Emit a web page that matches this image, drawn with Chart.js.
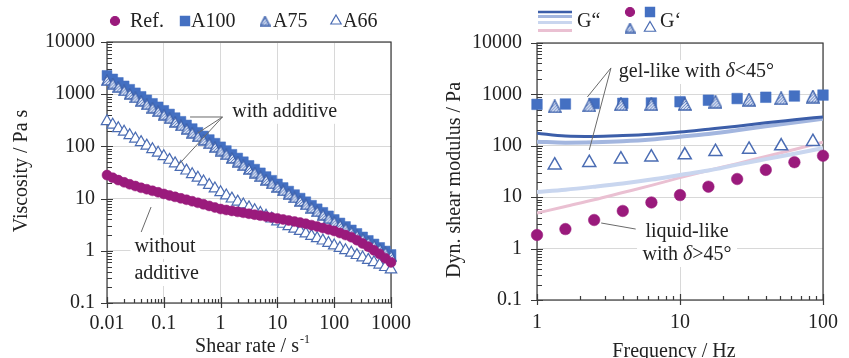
<!DOCTYPE html>
<html>
<head>
<meta charset="utf-8">
<script src="https://cdn.jsdelivr.net/npm/chart.js@4.4.0/dist/chart.umd.min.js"></script>
<style>
  html, body { margin: 0; padding: 0; background: #fff; }
  #wrap { position: relative; width: 849px; height: 358px; }
  #c1 { position: absolute; left: 0; top: 0; }
  #c2 { position: absolute; left: 420px; top: 0; }
</style>
</head>
<body>
<div id="wrap">
  <canvas id="c1" width="420" height="358"></canvas>
  <canvas id="c2" width="429" height="358"></canvas>
</div>
<script>
// ---- left chart: viscosity curves
const shearRate = [0.01,0.0126,0.0158,0.02,0.0251,0.0316,0.0398,0.0501,0.0631,0.0794,
  0.1,0.126,0.158,0.2,0.251,0.316,0.398,0.501,0.631,0.794,
  1,1.26,1.58,2,2.51,3.16,3.98,5.01,6.31,7.94,
  10,12.6,15.8,20,25.1,31.6,39.8,50.1,63.1,79.4,
  100,126,158,200,251,316,398,501,631,794,1000];
const viscRef = [28.2,25.1,22.6,20.5,18.8,17.4,16.1,15.1,14.1,13.2,
  12.3,11.5,10.8,10.1,9.5,8.9,8.3,7.76,7.24,6.76,
  6.31,6.05,5.81,5.57,5.35,5.13,4.92,4.72,4.53,4.35,
  4.17,3.98,3.80,3.63,3.47,3.31,3.10,2.91,2.73,2.56,
  2.40,2.19,2.0,1.82,1.60,1.38,1.20,1.02,0.87,0.72,0.60];
const viscA100 = [2290,1960,1680,1440,1240,1060,908,778,667,571,
  490,417,355,302,257,219,186,158,135,115,
  98,83,70.5,59.8,50.8,43.2,36.6,31.1,26.4,22.4,
  19.1,16.3,13.9,11.9,10.2,8.7,7.45,6.37,5.45,4.66,
  3.98,3.41,2.92,2.51,2.15,1.84,1.58,1.35,1.16,0.99,0.85];
const viscA75 = [1860,1600,1370,1180,1010,868,745,640,550,472,
  405,346,295,252,215,183,156,133,114,97,
  83,70.5,60,51,43.5,37,31.5,26.8,22.9,19.5,
  16.7,14.3,12.3,10.5,9.0,7.75,6.65,5.7,4.9,4.2,
  3.6,3.1,2.67,2.3,1.98,1.7,1.46,1.26,1.08,0.93,0.8];
const viscA66 = [302,259,222,190,163,140,120,103,88,75,
  64.6,55,47,40,34.2,29.2,24.9,21.2,18.1,15.5,
  13.2,11.4,9.95,8.7,7.65,6.76,5.97,5.28,4.68,4.12,
  3.63,3.27,2.94,2.64,2.38,2.14,1.92,1.73,1.56,1.40,
  1.26,1.13,1.02,0.916,0.824,0.741,0.667,0.6,0.54,0.485,0.436];

// ---- right chart: oscillation moduli
const freq = [1,1.58,2.51,3.98,6.31,10,15.8,25.1,39.8,63.1,100];
const freqTri = [1.33,2.32,3.86,6.3,10.8,17.7,30.4,51,85];
const gStoreRef = [1.84,2.4,3.6,5.4,7.9,11,16,22.6,34,48,64];
const gStoreA100 = [640,650,665,670,680,720,770,830,880,930,970];
const gStoreA75 = [585,610,640,645,650,720,790,840,910];
const gStoreA66 = [42,47,55,60,66,77,85,99,120];
const gLossA100 = [175,155,152,158,168,185,210,240,280,320,365];
const gLossA75 = [120,115,117,122,132,150,170,200,240,285,335];
const gLossA66 = [12.6,14,16,18.5,22,27,33,43,55,70,90];
const gLossRef = [4.9,6.6,8.9,12.3,17,24,33,45,62,85,118];

// ---- axes
const xMajorLeft = [0.01,0.1,1,10,100,1000];
const xLabelsLeft = ['0.01','0.1','1','10','100','1000'];
const xMajorRight = [1,10,100];
const xLabelsRight = ['1','10','100'];
const yMajor = [0.1,1,10,100,1000,10000];
const yLabels = ['0.1','1','10','100','1000','10000'];

const SERIF = '"Liberation Serif", "Times New Roman", serif';
const TXT = '#222';
const PURPLE = '#9a1a7c';
const BLUE = '#4470c2';
const BLUE_LINE = '#4a6cb3';

Chart.defaults.font.family = SERIF;
Chart.defaults.font.size = 20;
Chart.defaults.color = TXT;

function isMajor(v) {
  const l = Math.log10(v);
  return Math.abs(l - Math.round(l)) < 1e-6;
}
function tickList(majors) {
  const out = [];
  for (let i = 0; i < majors.length - 1; i++) {
    for (let k = 1; k < 10; k++) out.push({ value: majors[i] * k });
  }
  out.push({ value: majors[majors.length - 1] });
  return out;
}
function labelFor(majors, labels) {
  return v => {
    const i = majors.findIndex(m => Math.abs(m - v) / m < 1e-6);
    return i < 0 ? '' : labels[i];
  };
}
function pts(xs, ys) { return xs.map((x, i) => ({ x: x, y: ys[i] })); }

// dotted/hatched triangle marker
function hatchTri(size) {
  const c = document.createElement('canvas');
  c.width = size; c.height = size;
  const g = c.getContext('2d');
  const path = () => {
    g.beginPath();
    g.moveTo(size / 2, 0.8);
    g.lineTo(size - 0.8, size - 1);
    g.lineTo(0.8, size - 1);
    g.closePath();
  };
  path();
  g.fillStyle = '#dfe6f5';
  g.fill();
  g.save();
  g.clip();
  g.strokeStyle = '#5b7cc0';
  g.lineWidth = 1;
  for (let k = -size; k < size * 2; k += 3) {
    g.beginPath(); g.moveTo(k, size); g.lineTo(k + size, 0); g.stroke();
  }
  g.restore();
  path();
  g.strokeStyle = '#3f63ad';
  g.lineWidth = 1.4;
  g.stroke();
  return c;
}
const triSmall = hatchTri(12);
const triLegend = hatchTri(11);
const triBig = hatchTri(14);

function axes(xMaj, xLab, yWidth, xHeight, xPad, yPad) {
  return {
    x: {
      type: 'logarithmic', min: xMaj[0], max: xMaj[xMaj.length - 1],
      afterBuildTicks: s => { s.ticks = tickList(xMaj); },
      afterFit: s => { s.height = xHeight; },
      ticks: { autoSkip: false, maxRotation: 0, padding: xPad, callback: labelFor(xMaj, xLab) },
      grid: { drawTicks: false, lineWidth: 1,
        color: c => (c.tick && isMajor(c.tick.value)) ? '#d8d8d8' : 'rgba(0,0,0,0)' },
      border: { display: false }
    },
    y: {
      type: 'logarithmic', min: 0.1, max: 10000,
      afterBuildTicks: s => { s.ticks = tickList(yMajor); },
      afterFit: s => { s.width = yWidth; },
      ticks: { autoSkip: false, padding: yPad, callback: labelFor(yMajor, yLabels) },
      grid: { drawTicks: false, lineWidth: 1,
        color: c => (c.tick && isMajor(c.tick.value)) ? '#d8d8d8' : 'rgba(0,0,0,0)' },
      border: { display: false }
    }
  };
}

// box + inner tick marks
const frame = {
  id: 'frame',
  beforeDatasetsDraw(chart) {
    const { ctx, chartArea: a, scales: { x, y } } = chart;
    ctx.save();
    ctx.strokeStyle = '#3a3a3a';
    ctx.lineWidth = 1.2;
    ctx.strokeRect(a.left, a.top, a.right - a.left, a.bottom - a.top);
    ctx.beginPath();
    x.ticks.forEach(t => {
      const p = Math.round(x.getPixelForValue(t.value)) + 0.5;
      const m = isMajor(t.value);
      ctx.moveTo(p, a.bottom + (m ? 5 : 0));
      ctx.lineTo(p, a.bottom - (m ? 6 : 4));
    });
    y.ticks.forEach(t => {
      const p = Math.round(y.getPixelForValue(t.value)) + 0.5;
      const m = isMajor(t.value);
      ctx.moveTo(a.left - (m ? 6 : 0), p);
      ctx.lineTo(a.left + (m ? 6 : 5), p);
    });
    ctx.stroke();
    ctx.restore();
  }
};

function font(size, italic) { return (italic ? 'italic ' : '') + size + 'px ' + SERIF; }
function rich(ctx, parts, x, y, size, align) {
  let w = 0;
  parts.forEach(p => { ctx.font = font(size, p.i); w += ctx.measureText(p.t).width; });
  let cx = align === 'center' ? x - w / 2 : x;
  ctx.textAlign = 'left';
  ctx.textBaseline = 'middle';
  parts.forEach(p => { ctx.font = font(size, p.i); ctx.fillText(p.t, cx, y); cx += ctx.measureText(p.t).width; });
  return w;
}
function bgText(ctx, parts, x, y, size, align) {
  let w = 0;
  parts.forEach(p => { ctx.font = font(size, p.i); w += ctx.measureText(p.t).width; });
  const left = align === 'center' ? x - w / 2 : x;
  ctx.fillStyle = '#fff';
  ctx.fillRect(left - 4, y - size * 0.6, w + 8, size * 1.2);
  ctx.fillStyle = TXT;
  rich(ctx, parts, x, y, size, align);
}
function pix(chart, xv, yv) {
  return { x: chart.scales.x.getPixelForValue(xv), y: chart.scales.y.getPixelForValue(yv) };
}
function leader(ctx, chart, from, tos) {
  const o = pix(chart, from[0], from[1]);
  ctx.strokeStyle = '#6a6a6a';
  ctx.lineWidth = 1;
  ctx.beginPath();
  tos.forEach(t => { const p = pix(chart, t[0], t[1]); ctx.moveTo(o.x, o.y); ctx.lineTo(p.x, p.y); });
  ctx.stroke();
}
function vTitle(ctx, text, x, y, size) {
  ctx.save();
  ctx.translate(x, y);
  ctx.rotate(-Math.PI / 2);
  ctx.font = font(size);
  ctx.fillStyle = TXT;
  ctx.textAlign = 'center';
  ctx.textBaseline = 'middle';
  ctx.fillText(text, 0, 0);
  ctx.restore();
}

const leftNotes = {
  id: 'leftNotes',
  afterDatasetsDraw(chart) {
    const ctx = chart.ctx;
    ctx.save();
    // leader lines
    leader(ctx, chart, [1.08, 366], [[0.29, 366], [0.40, 181], [0.18, 44]]);
    leader(ctx, chart, [0.040, 2.29], [[0.0597, 6.9]]);
    // labels
    const wa = pix(chart, 1.6, 460);
    bgText(ctx, [{ t: 'with additive' }], wa.x, wa.y, 20, 'left');
    const w1 = pix(chart, 0.0304, 1.24);
    bgText(ctx, [{ t: 'without' }], w1.x, w1.y + 1, 20, 'left');
    const w2 = pix(chart, 0.0304, 0.376);
    bgText(ctx, [{ t: 'additive' }], w2.x, w2.y + 1, 20, 'left');
    // axis titles
    vTitle(ctx, 'Viscosity / Pa s', 22, 171, 20);
    ctx.fillStyle = TXT;
    ctx.font = font(20);
    const main = 'Shear rate / s';
    const mw = ctx.measureText(main).width;
    ctx.font = font(12);
    const sw = ctx.measureText('-1').width;
    let sx = 252 - (mw + sw) / 2;
    ctx.textAlign = 'left';
    ctx.textBaseline = 'alphabetic';
    ctx.font = font(20);
    ctx.fillText(main, sx, 352);
    ctx.font = font(12);
    ctx.fillText('-1', sx + mw + 1, 343);
    // legend
    const items = [
      { x: 115, style: 'circle', r: 4.5, fill: PURPLE, stroke: PURPLE, label: 'Ref.', tx: 130 },
      { x: 185, style: 'rect', r: 6.5, fill: BLUE, stroke: BLUE, label: 'A100', tx: 191 },
      { x: 265, style: triLegend, r: 6, fill: '#fff', stroke: BLUE_LINE, label: 'A75', tx: 273 },
      { x: 336, style: 'triangle', r: 6, fill: '#fff', stroke: BLUE_LINE, label: 'A66', tx: 343 }
    ];
    items.forEach(it => {
      ctx.fillStyle = it.fill;
      ctx.strokeStyle = it.stroke;
      ctx.lineWidth = 1.2;
      Chart.helpers.drawPoint(ctx, { pointStyle: it.style, radius: it.r, rotation: 0, borderWidth: 1.2 }, it.x, 21);
      ctx.fillStyle = TXT;
      ctx.font = font(20);
      ctx.textAlign = 'left';
      ctx.textBaseline = 'middle';
      ctx.fillText(it.label, it.tx, 22);
    });
    ctx.restore();
  }
};

const rightNotes = {
  id: 'rightNotes',
  afterDatasetsDraw(chart) {
    const ctx = chart.ctx;
    ctx.save();
    leader(ctx, chart, [3.29, 3270], [[2.25, 890], [2.32, 83]]);
    leader(ctx, chart, [2.81, 3.15], [[4.9, 2.4]]);
    const g = pix(chart, 3.73, 2730);
    bgText(ctx, [{ t: 'gel-like with ' }, { t: 'δ', i: true }, { t: '<45°' }], g.x, g.y, 20, 'left');
    const l1 = pix(chart, 11.2, 2.1);
    const l2 = pix(chart, 11.2, 0.75);
    ctx.fillStyle = '#fff';
    ctx.fillRect(l1.x - 50, l1.y - 12, 100, l2.y - l1.y + 24);
    ctx.fillStyle = TXT;
    rich(ctx, [{ t: 'liquid-like' }], l1.x, l1.y, 20, 'center');
    rich(ctx, [{ t: 'with ' }, { t: 'δ', i: true }, { t: '>45°' }], l2.x, l2.y, 20, 'center');
    // titles
    vTitle(ctx, 'Dyn. shear modulus / Pa', 35, 180, 20);
    ctx.fillStyle = TXT;
    ctx.font = font(20);
    ctx.textAlign = 'center';
    ctx.textBaseline = 'alphabetic';
    ctx.fillText('Frequency / Hz', 254, 357);
    // legend: G'' lines and G' markers
    const lines = [['#3c5ea9', 12, 2.5], ['#a3b6df', 16.5, 3], ['#c9d6ef', 22.5, 3], ['#eac0d2', 30.5, 3]];
    lines.forEach(l => {
      ctx.strokeStyle = l[0];
      ctx.lineWidth = l[2];
      ctx.beginPath(); ctx.moveTo(118, l[1]); ctx.lineTo(152, l[1]); ctx.stroke();
    });
    ctx.fillStyle = TXT;
    ctx.font = font(20);
    ctx.textAlign = 'left';
    ctx.textBaseline = 'middle';
    ctx.fillText('G\u201C', 157, 22);
    const mk = [
      { x: 210, y: 12, style: 'circle', r: 4.5, fill: PURPLE, stroke: PURPLE },
      { x: 230, y: 12, style: 'rect', r: 6.5, fill: BLUE, stroke: BLUE },
      { x: 210, y: 28, style: triLegend, r: 6, fill: '#fff', stroke: BLUE_LINE },
      { x: 230, y: 28, style: 'triangle', r: 6.5, fill: '#fff', stroke: BLUE_LINE }
    ];
    mk.forEach(m => {
      ctx.fillStyle = m.fill;
      ctx.strokeStyle = m.stroke;
      ctx.lineWidth = 1.2;
      Chart.helpers.drawPoint(ctx, { pointStyle: m.style, radius: m.r, rotation: 0, borderWidth: 1.2 }, m.x, m.y);
    });
    ctx.fillStyle = TXT;
    ctx.font = font(20);
    ctx.fillText('G\u2018', 240, 22);
    ctx.restore();
  }
};

new Chart(document.getElementById('c1'), {
  type: 'scatter',
  data: {
    datasets: [
      { label: 'Ref.', data: pts(shearRate, viscRef), pointStyle: 'circle', pointRadius: 5,
        backgroundColor: PURPLE, borderColor: PURPLE, borderWidth: 0.5, clip: false },
      { label: 'A75', data: pts(shearRate, viscA75), pointStyle: triSmall, pointRadius: 6, clip: false },
      { label: 'A100', data: pts(shearRate, viscA100), pointStyle: 'rect', pointRadius: 7,
        backgroundColor: BLUE, borderColor: BLUE, borderWidth: 0.5, clip: false },
      { label: 'A66', data: pts(shearRate, viscA66), pointStyle: 'triangle', pointRadius: 6.6,
        backgroundColor: '#fff', borderColor: BLUE_LINE, borderWidth: 1.2, clip: false }
    ]
  },
  options: {
    responsive: false,
    animation: false,
    events: [],
    layout: { padding: { top: 42, right: 23, left: 0, bottom: 0 } },
    plugins: { legend: { display: false }, tooltip: { enabled: false } },
    scales: axes(xMajorLeft, xLabelsLeft, 107, 55, 9, 12)
  },
  plugins: [frame, leftNotes]
});

new Chart(document.getElementById('c2'), {
  type: 'scatter',
  data: {
    datasets: [
      { label: "G' Ref.", data: pts(freq, gStoreRef), pointStyle: 'circle', pointRadius: 5.8,
        backgroundColor: PURPLE, borderColor: PURPLE, borderWidth: 0.5, clip: false },
      { label: "G' A75", data: pts(freqTri, gStoreA75), pointStyle: triBig, pointRadius: 7, clip: false },
      { label: "G' A100", data: pts(freq, gStoreA100), pointStyle: 'rect', pointRadius: 7.5,
        backgroundColor: BLUE, borderColor: BLUE, borderWidth: 0.5, clip: false },
      { label: "G' A66", data: pts(freqTri, gStoreA66), pointStyle: 'triangle', pointRadius: 7.5,
        backgroundColor: '#fff', borderColor: BLUE_LINE, borderWidth: 1.5, clip: false },
      { label: "G'' A100", data: pts(freq, gLossA100), showLine: true, pointRadius: 0,
        borderColor: '#3c5ea9', borderWidth: 3, cubicInterpolationMode: 'monotone' },
      { label: "G'' A75", data: pts(freq, gLossA75), showLine: true, pointRadius: 0,
        borderColor: '#a3b6df', borderWidth: 4, cubicInterpolationMode: 'monotone' },
      { label: "G'' A66", data: pts(freq, gLossA66), showLine: true, pointRadius: 0,
        borderColor: '#c9d6ef', borderWidth: 4, cubicInterpolationMode: 'monotone' },
      { label: "G'' Ref.", data: pts(freq, gLossRef), showLine: true, pointRadius: 0,
        borderColor: '#eac0d2', borderWidth: 3, cubicInterpolationMode: 'monotone' }
    ]
  },
  options: {
    responsive: false,
    animation: false,
    events: [],
    layout: { padding: { top: 43, right: 22, left: 0, bottom: 0 } },
    plugins: { legend: { display: false }, tooltip: { enabled: false } },
    scales: axes(xMajorRight, xLabelsRight, 117, 58, 11, 15)
  },
  plugins: [frame, rightNotes]
});
</script>
</body>
</html>
